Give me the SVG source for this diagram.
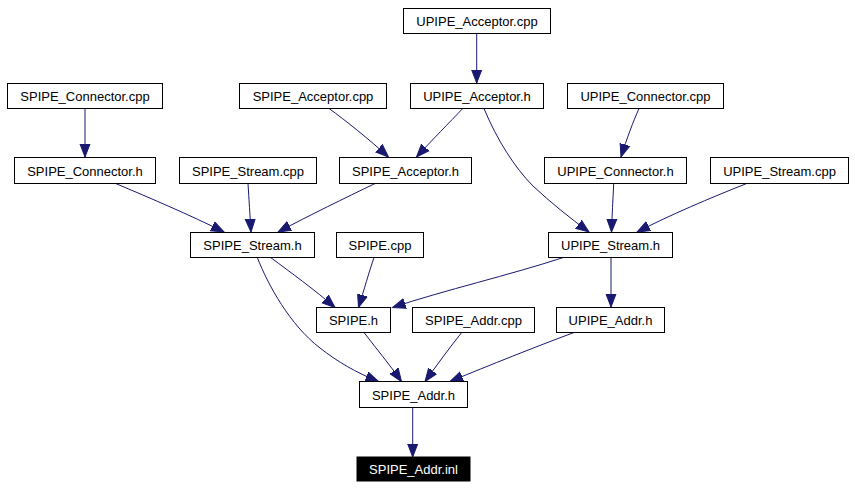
<svg xmlns="http://www.w3.org/2000/svg" width="855" height="488" viewBox="0 0 855 488">
<style>
.n rect{fill:#fff;stroke:#000;stroke-width:1}
.n text{font-family:"Liberation Sans",Arial,sans-serif;font-size:13px;text-anchor:middle;fill:#000}
.n.cur rect{fill:#000}
.n.cur text{fill:#fff}
.e path{fill:none;stroke:#191970;stroke-width:1;marker-end:url(#ah)}
</style>
<defs>
<marker id="ah" markerUnits="userSpaceOnUse" markerWidth="14" markerHeight="12" refX="13" refY="5" orient="auto" viewBox="0 0 14 10">
<path d="M0,0 L13,5 L0,10 z" fill="#191970" stroke="#191970" stroke-width="1"/>
</marker>
</defs>
<rect width="855" height="488" fill="#fff"/>
<g id="edges" class="e">
<path d="M476.7,33.5 L476.7,83"/>
<path d="M85,108.5 L85,157"/>
<path d="M329,108.5 C345,120 370,140 388.5,157"/>
<path d="M462.7,108.5 C450,122 432,140 416.5,157"/>
<path d="M484,108.5 C497,140 515,168 533,186 C550,202 570,218 589,232"/>
<path d="M639,108.5 C633,122 627,138 621,157"/>
<path d="M115.7,183.5 C150,198 190,215 224,232"/>
<path d="M248,183.5 C249,200 250,215 251,232"/>
<path d="M375,183.5 C345,198 310,215 278,232"/>
<path d="M613.7,183.5 C613,200 612,215 611.5,232"/>
<path d="M746.7,183.5 C710,198 670,215 637,232"/>
<path d="M270.7,257.5 C290,272 315,290 335,307.5"/>
<path d="M374,257.5 C369,272 364,290 358.5,307.5"/>
<path d="M563.3,257.5 C510,275 445,290 392.5,307.5"/>
<path d="M611,257.5 L611,307"/>
<path d="M257.3,257.5 C268,285 290,325 320,348 C338,362 355,372 378.5,381.5"/>
<path d="M364,332.5 C375,347 390,365 401.5,381.5"/>
<path d="M461.7,332.5 C450,347 437,365 425,381.5"/>
<path d="M574,332.5 C535,347 490,365 450,381.5"/>
<path d="M412.7,407.5 L412.7,457"/>
</g>
<g id="n_upipe_acceptor_cpp" class="n"><rect x="403.5" y="8.5" width="147" height="25"/><text x="477" y="26">UPIPE_Acceptor.cpp</text></g>
<g id="n_spipe_connector_cpp" class="n"><rect x="7.5" y="83.5" width="155" height="25"/><text x="85" y="101">SPIPE_Connector.cpp</text></g>
<g id="n_spipe_acceptor_cpp" class="n"><rect x="239.5" y="83.5" width="147" height="25"/><text x="313" y="101">SPIPE_Acceptor.cpp</text></g>
<g id="n_upipe_acceptor_h" class="n"><rect x="410.5" y="83.5" width="133" height="25"/><text x="477" y="101">UPIPE_Acceptor.h</text></g>
<g id="n_upipe_connector_cpp" class="n"><rect x="567.5" y="83.5" width="156" height="25"/><text x="645.5" y="101">UPIPE_Connector.cpp</text></g>
<g id="n_spipe_connector_h" class="n"><rect x="14.5" y="157.5" width="141" height="26"/><text x="85" y="175.5">SPIPE_Connector.h</text></g>
<g id="n_spipe_stream_cpp" class="n"><rect x="179.5" y="157.5" width="137" height="26"/><text x="248" y="175.5">SPIPE_Stream.cpp</text></g>
<g id="n_spipe_acceptor_h" class="n"><rect x="339.5" y="157.5" width="132" height="26"/><text x="405.5" y="175.5">SPIPE_Acceptor.h</text></g>
<g id="n_upipe_connector_h" class="n"><rect x="544.5" y="157.5" width="142" height="26"/><text x="615.5" y="175.5">UPIPE_Connector.h</text></g>
<g id="n_upipe_stream_cpp" class="n"><rect x="710.5" y="157.5" width="138" height="26"/><text x="779.5" y="175.5">UPIPE_Stream.cpp</text></g>
<g id="n_spipe_stream_h" class="n"><rect x="190.5" y="232.5" width="124" height="25"/><text x="252.5" y="250">SPIPE_Stream.h</text></g>
<g id="n_spipe_cpp" class="n"><rect x="336.5" y="232.5" width="87" height="25"/><text x="380" y="250">SPIPE.cpp</text></g>
<g id="n_upipe_stream_h" class="n"><rect x="548.5" y="232.5" width="124" height="25"/><text x="610.5" y="250">UPIPE_Stream.h</text></g>
<g id="n_spipe_h" class="n"><rect x="316.5" y="307.5" width="74" height="25"/><text x="353.5" y="325">SPIPE.h</text></g>
<g id="n_spipe_addr_cpp" class="n"><rect x="412.5" y="307.5" width="122" height="25"/><text x="473.5" y="325">SPIPE_Addr.cpp</text></g>
<g id="n_upipe_addr_h" class="n"><rect x="556.5" y="307.5" width="108" height="25"/><text x="610.5" y="325">UPIPE_Addr.h</text></g>
<g id="n_spipe_addr_h" class="n"><rect x="359.5" y="381.5" width="108" height="26"/><text x="413.5" y="399.5">SPIPE_Addr.h</text></g>
<g id="n_spipe_addr_inl" class="n cur"><rect x="357" y="457" width="113" height="24"/><text x="413.5" y="474">SPIPE_Addr.inl</text></g>
</svg>
